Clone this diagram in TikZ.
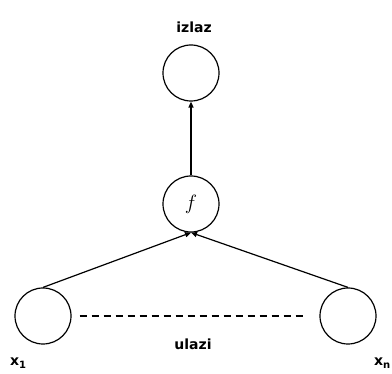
\documentclass[tikz,border=0pt]{standalone}
\usepackage{fontspec}
\setmainfont{DejaVu Sans}
\usetikzlibrary{arrows.meta}
\begin{document}
\begin{tikzpicture}[x=1pt,y=1pt,
  neuron/.style={draw,circle,line width=1.2pt,minimum size=56pt,inner sep=0pt},
  lbl/.style={font=\fontsize{14}{16}\selectfont\bfseries,inner sep=0pt},
  conn/.style={line width=1.2pt,-{Triangle[length=6pt,width=5pt]}}]
\useasboundingbox (0,0) rectangle (392,374);
\node[neuron] (out) at (191,301) {};
\node[neuron] (f) at (191,170) {\fontsize{21}{23}\selectfont$f$};
\node[neuron] (in1) at (43,58) {};
\node[neuron] (in2) at (348,58) {};
\node[lbl] (lout) at (194,347) {izlaz};
\node[lbl] (lin) at (193,30) {ulazi};
\node[lbl,anchor=west] (lx1) at (10,11) {x\raisebox{-3pt}{\fontsize{10}{11}\selectfont 1}};
\node[lbl,anchor=west] (lxn) at (374,11) {x\raisebox{-3pt}{\fontsize{10}{11}\selectfont n}};
\draw[conn] (f.north) -- (out.south);
\draw[conn] (in1.north) -- (f.south);
\draw[conn] (in2.north) -- (f.south);
\draw[line width=1.2pt,dash pattern=on 7pt off 5pt,shorten <=8pt,shorten >=15pt] (in1.east) -- (in2.west);
\end{tikzpicture}
\end{document}
